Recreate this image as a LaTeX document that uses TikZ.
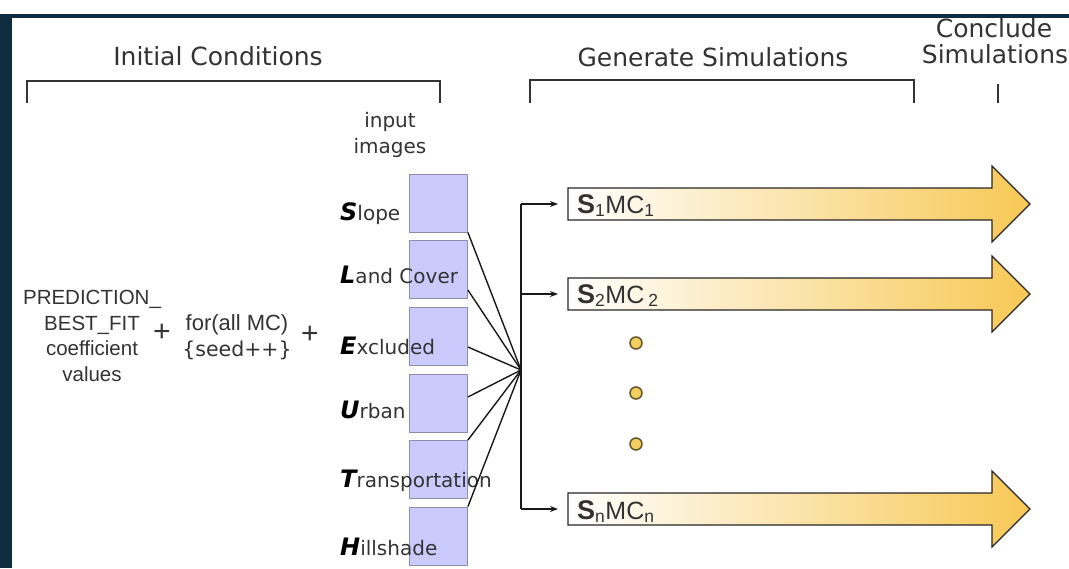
\documentclass[tikz,border=0pt]{standalone}
\usepackage{fontspec}
\setmainfont{DejaVu Sans}
\newfontfamily\arialf{Liberation Sans}
\usetikzlibrary{arrows.meta,calc}
\definecolor{navy}{RGB}{16,44,64}
\definecolor{txt}{RGB}{51,51,51}
\definecolor{boxfill}{RGB}{202,202,252}
\definecolor{boxline}{RGB}{140,140,175}
\definecolor{gold}{RGB}{247,200,85}
\definecolor{cream}{RGB}{253,236,180}
\definecolor{dotfill}{RGB}{244,206,96}
\definecolor{dotline}{RGB}{100,85,40}
\newcommand{\fl}[1]{{\color{black}\fontsize{24}{22}\selectfont\bfseries\itshape #1}}
\newcommand{\bigS}{{\fontsize{27}{27}\selectfont\bfseries S}}
\begin{document}
\begin{tikzpicture}[x=1pt,y=-1pt,
  title/.style={font=\fontsize{25}{25}\selectfont, text=txt, inner sep=0, anchor=base},
  lbl/.style={font=\fontsize{20}{22}\selectfont, text=txt, inner sep=0, anchor=base west},
  imgbox/.style={draw=boxline, fill=boxfill, minimum width=58pt, minimum height=58pt, inner sep=0, line width=0.8pt},
  bracket/.style={draw=txt, line width=1.4pt},
  conn/.style={draw=black!90, line width=1.4pt},
  feed/.style={conn, -{Stealth[length=8pt,width=6pt]}, shorten >=10pt},
  simarrow/.style={draw=black!85, line width=1.3pt, left color=white, middle color=cream, right color=gold},
  simtext/.style={font=\arialf\fontsize{25}{25}\selectfont, text=txt, inner sep=0, anchor=base west},
  dot/.style={circle, draw=dotline, fill=dotfill, minimum size=12pt, inner sep=0, line width=1.5pt},
  plain/.style={text=txt, inner sep=0}]
\useasboundingbox (0,0) rectangle (1069,568);
% frame
\fill[navy] (0,14) rectangle (1069,18);
\fill[navy] (0,14) rectangle (12,568);
% titles and brackets
\node[title] (tic) at (218,65) {Initial Conditions};
\draw[bracket] (27,103) -- (27,81) -- (440,81) -- (440,103);
\node[title] (tgs) at (713,66) {Generate Simulations};
\draw[bracket] (530,103) -- (530,80) -- (914,80) -- (914,103);
\node[title] (tcs1) at (994,37) {Conclude};
\node[title] (tcs2) at (995,63) {Simulations};
\draw[bracket] (998,84) -- (998,103);
% left text
\node[plain, font=\arialf\fontsize{20.5}{25.5}\selectfont, align=center] (coef) at (92,336) {PREDICTION\_\\BEST\_FIT\\coefficient\\values};
\node[plain, font=\arialf\fontsize{30}{30}\selectfont] (p1) at (162,333) {+};
\node[plain, font=\fontsize{20.5}{25.5}\selectfont, align=center] (seed) at (237,337) {{\arialf\fontsize{22}{25.5}\selectfont for(all MC)}\\\{seed++\}};
\node[plain, font=\arialf\fontsize{30}{30}\selectfont] (p2) at (310,335) {+};
% input images
\node[plain, font=\fontsize{20}{26}\selectfont, align=center] (inp) at (390,135) {input\\images};
\node[imgbox] (b1) at (438.5,203) {};
\node[imgbox] (b2) at (438.5,269.5) {};
\node[imgbox] (b3) at (438.5,336.5) {};
\node[imgbox] (b4) at (438.5,403) {};
\node[imgbox] (b5) at (438.5,469.5) {};
\node[imgbox] (b6) at (438.5,536) {};
\node[lbl] (l1) at (340,220) {\fl{S}lope};
\node[lbl] (l2) at (340,283) {\fl{L}and Cover};
\node[lbl] (l3) at (340,354) {\fl{E}xcluded};
\node[lbl] (l4) at (340,418) {\fl{U}rban};
\node[lbl] (l5) at (340,487) {\fl{T}ransportation};
\node[lbl] (l6) at (340,555) {\fl{H}illshade};
% converging lines
\coordinate (hub) at (521,370);
\draw[conn] (b1.south east) -- (hub);
\draw[conn] ([yshift=-20.5pt]b2.east) -- (hub);
\draw[conn] ([yshift=-10.5pt]b3.east) -- (hub);
\draw[conn] ([yshift=6pt]b4.east) -- (hub);
\draw[conn] (b5.north east) -- (hub);
\draw[conn] (b6.north east) -- (hub);
% simulation arrows
\foreach \y/\nm in {204/a1,294/a2,509/an}{
  \path[simarrow] (568,\y-16) -- (992,\y-16) -- (992,\y-38) -- (1030,\y) -- (992,\y+38) -- (992,\y+16) -- (568,\y+16) -- cycle;
  \coordinate (\nm) at (568,\y);
}
\coordinate (v1) at (521,204);
\coordinate (v2) at (521,294);
\coordinate (vn) at (521,509);
\draw[conn] (v1) -- (vn);
\draw[feed] (v1) -- (a1);
\draw[feed] (v2) -- (a2);
\draw[feed] (vn) -- (an);
\node[simtext] (t1) at (577,213) {\bigS\textsubscript{1}MC\textsubscript{1}};
\node[simtext] (t2) at (577,303) {\bigS\textsubscript{2}MC\,\textsubscript{2}};
\node[simtext] (tn) at (577,519) {\bigS\textsubscript{n}MC\textsubscript{n}};
\node[dot] (d1) at (636,343) {};
\node[dot] (d2) at (636,393) {};
\node[dot] (d3) at (636,444) {};
\end{tikzpicture}
\end{document}
